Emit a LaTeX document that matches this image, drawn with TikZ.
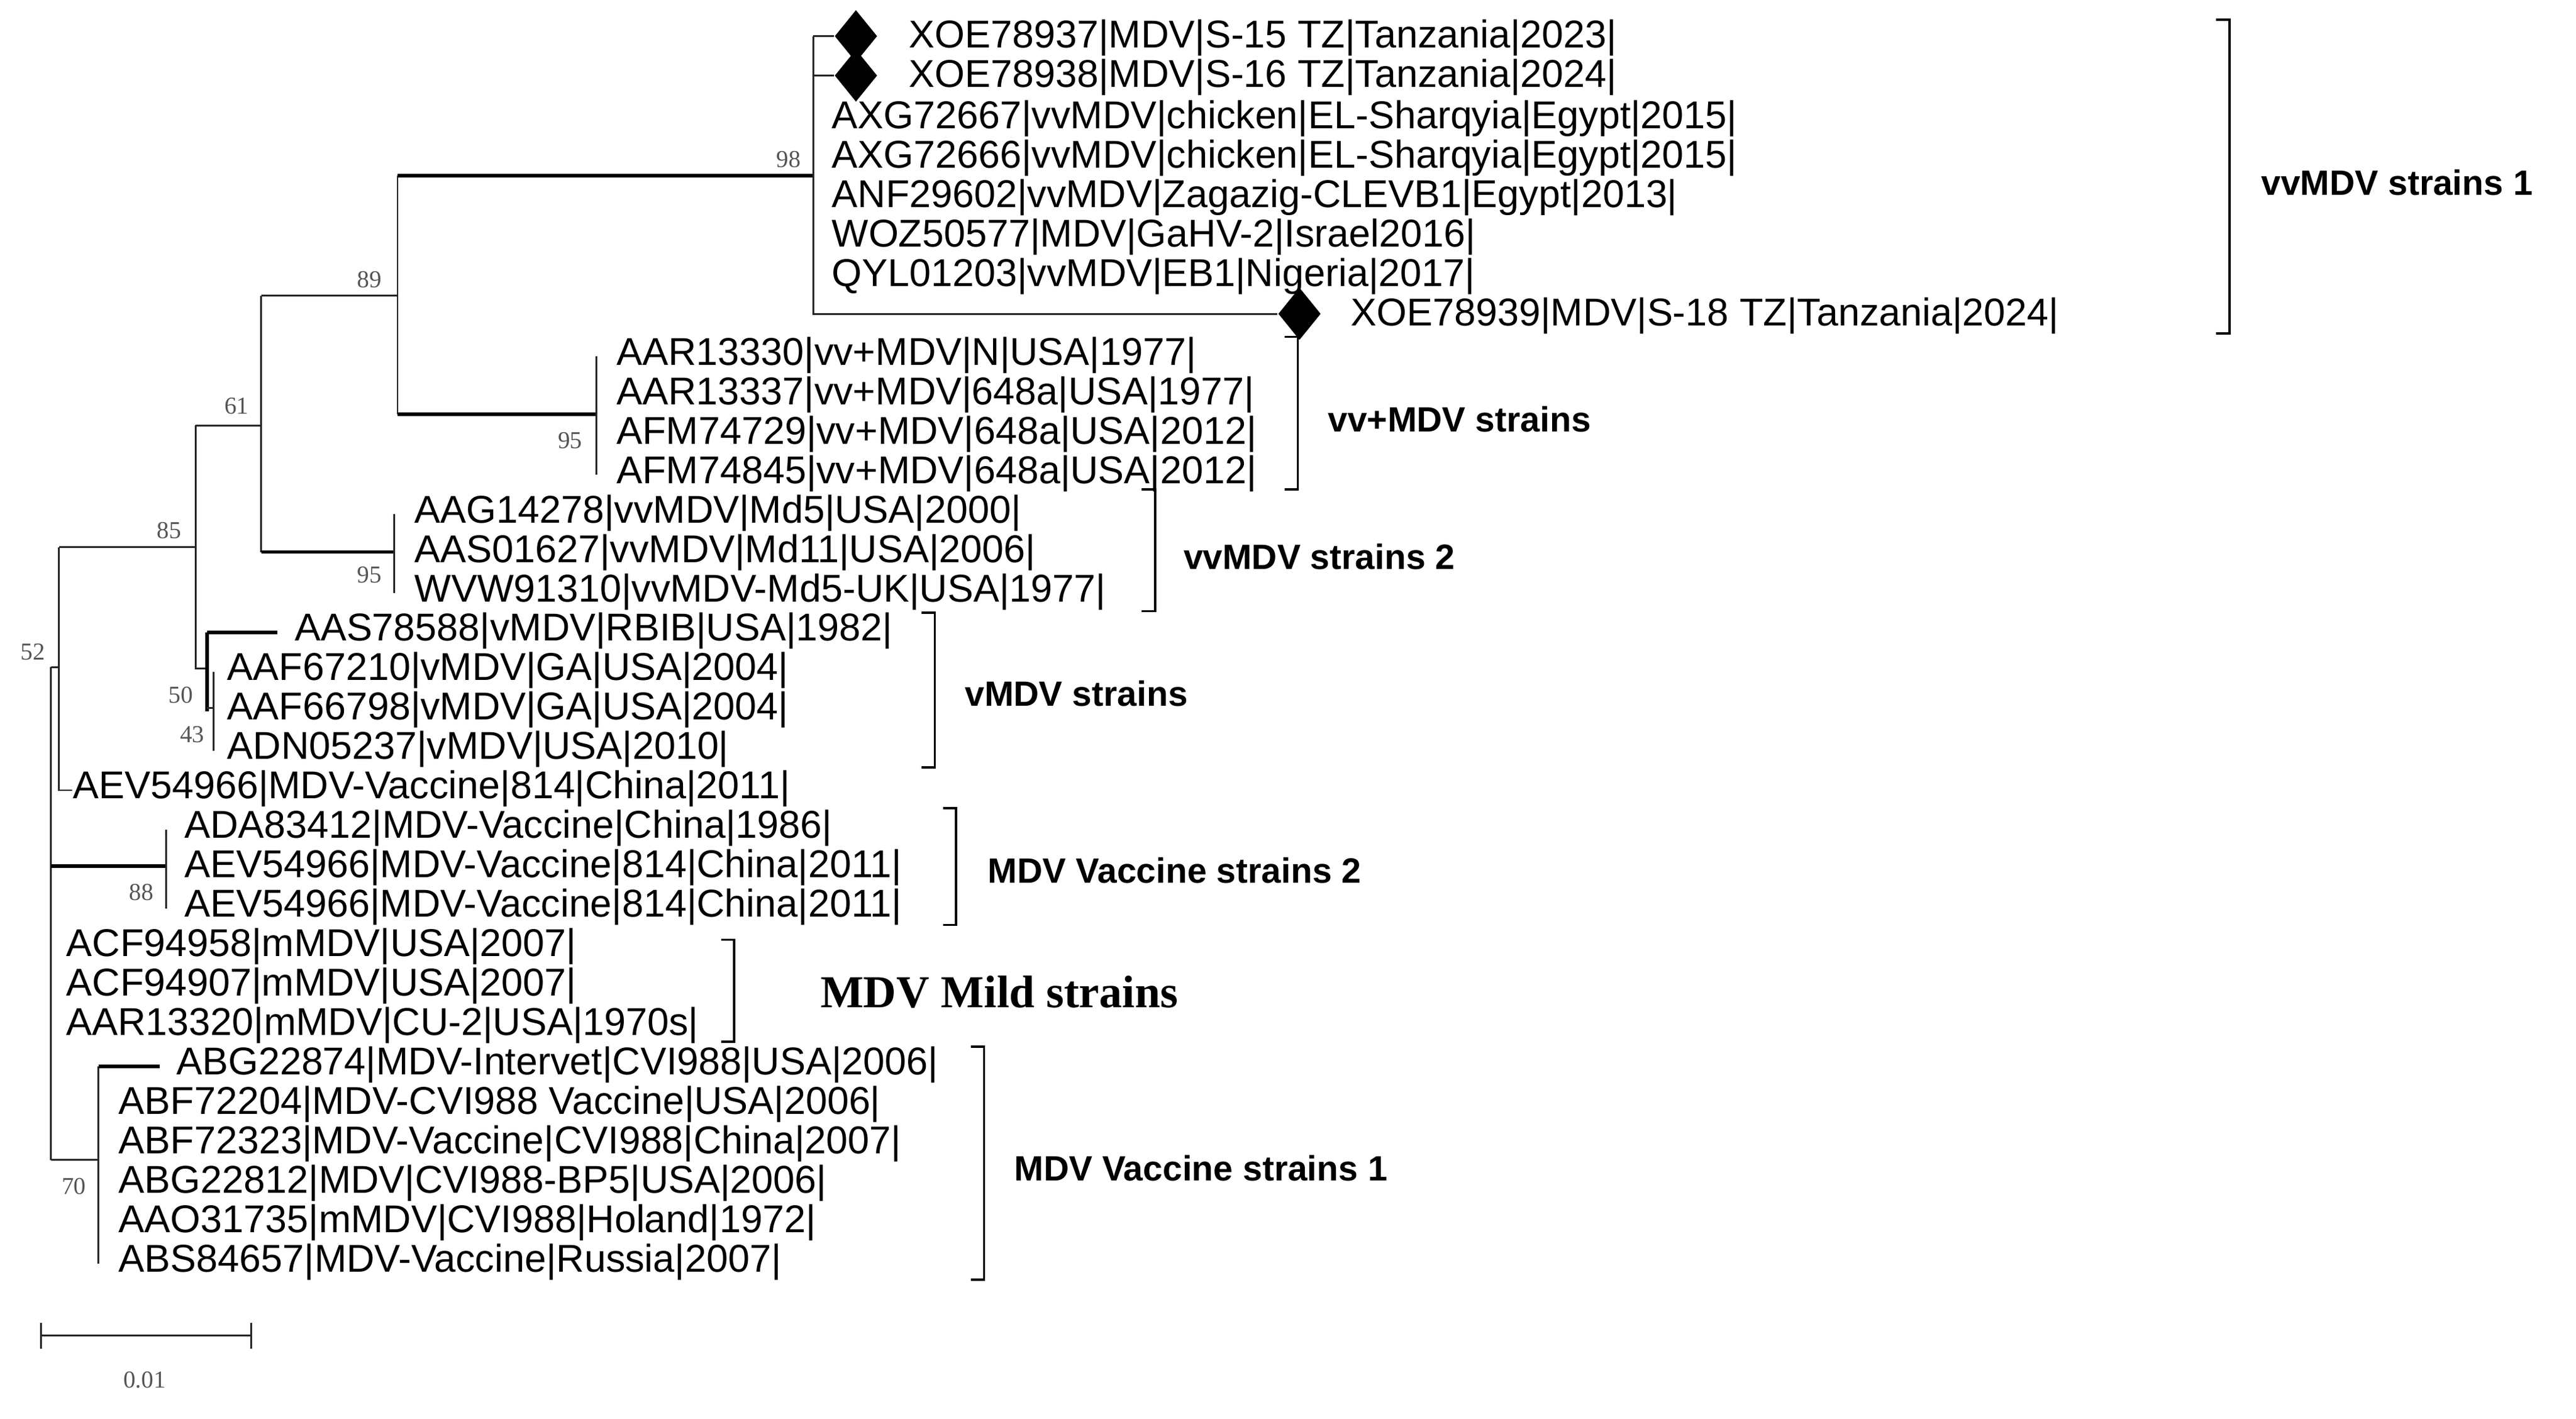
\documentclass[tikz,border=0pt]{standalone}
\usepackage{fontspec}
\setmainfont{Liberation Sans}
\newfontfamily\serif{Liberation Serif}
\usetikzlibrary{shapes.geometric}
\definecolor{bootgray}{HTML}{555555}
\begin{document}
\begin{tikzpicture}[x=0.5pt,y=-0.5pt,
  br/.style={line width=0.55pt, black!85},
  tbr/.style={line width=1.1pt},
  leaf/.style={anchor=west, inner sep=0pt, yshift=-1pt, font=\fontsize{11.8}{12}\selectfont, text height=0.72em, text depth=0.2em},
  boot/.style={font=\serif\fontsize{7.4}{8}\selectfont, text=bootgray, inner sep=0pt},
  grp/.style={anchor=west, inner sep=0pt, font=\bfseries\fontsize{10.7}{12}\selectfont},
  brk/.style={line width=0.7pt},
  dia/.style={diamond, fill=black, inner sep=0pt, minimum width=13pt, minimum height=16pt}]
\useasboundingbox (0,0) rectangle (1568,863.7);

% internal nodes
\coordinate (r)   at (31,406);
\coordinate (n52) at (36,406);
\coordinate (n85) at (119,333);
\coordinate (n61) at (159,259);
\coordinate (n89) at (242,180);
\coordinate (n98) at (495,107);
\coordinate (nvp) at (363,252);
\coordinate (nv2) at (240,336);
\coordinate (n50) at (126,407);
\coordinate (n43) at (130,431);
\coordinate (n88) at (101,527);
\coordinate (n70) at (60,706);

% leaves
\node[dia] (d1) at (521,22) {};
\node[dia] (d2) at (521,46) {};
\node[leaf] (l1) at (553,22) {XOE78937|MDV|S-15 TZ|Tanzania|2023|};
\node[leaf] (l2) at (553,46) {XOE78938|MDV|S-16 TZ|Tanzania|2024|};
\node[leaf] (l3) at (506,71) {AXG72667|vvMDV|chicken|EL-Sharqyia|Egypt|2015|};
\node[leaf] (l4) at (506,95) {AXG72666|vvMDV|chicken|EL-Sharqyia|Egypt|2015|};
\node[leaf] (l5) at (506,119) {ANF29602|vvMDV|Zagazig-CLEVB1|Egypt|2013|};
\node[leaf] (l6) at (506,143) {WOZ50577|MDV|GaHV-2|Israel2016|};
\node[leaf] (l7) at (506,167) {QYL01203|vvMDV|EB1|Nigeria|2017|};
\node[dia] (d3) at (791,191) {};
\node[leaf] (l8) at (822,191) {XOE78939|MDV|S-18 TZ|Tanzania|2024|};
\node[leaf] (l9) at (375,215) {AAR13330|vv+MDV|N|USA|1977|};
\node[leaf] (l10) at (375,239) {AAR13337|vv+MDV|648a|USA|1977|};
\node[leaf] (l11) at (375,263) {AFM74729|vv+MDV|648a|USA|2012|};
\node[leaf] (l12) at (375,287) {AFM74845|vv+MDV|648a|USA|2012|};
\node[leaf] (l13) at (252,311) {AAG14278|vvMDV|Md5|USA|2000|};
\node[leaf] (l14) at (252,335) {AAS01627|vvMDV|Md11|USA|2006|};
\node[leaf] (l15) at (252,359) {WVW91310|vvMDV-Md5-UK|USA|1977|};
\node[leaf] (l16) at (179,383) {AAS78588|vMDV|RBIB|USA|1982|};
\node[leaf] (l17) at (138,407) {AAF67210|vMDV|GA|USA|2004|};
\node[leaf] (l18) at (138,431) {AAF66798|vMDV|GA|USA|2004|};
\node[leaf] (l19) at (138,455) {ADN05237|vMDV|USA|2010|};
\node[leaf] (l20) at (44,479) {AEV54966|MDV-Vaccine|814|China|2011|};
\node[leaf] (l21) at (112,503) {ADA83412|MDV-Vaccine|China|1986|};
\node[leaf] (l22) at (112,527) {AEV54966|MDV-Vaccine|814|China|2011|};
\node[leaf] (l23) at (112,551) {AEV54966|MDV-Vaccine|814|China|2011|};
\node[leaf] (l24) at (40,575) {ACF94958|mMDV|USA|2007|};
\node[leaf] (l25) at (40,599) {ACF94907|mMDV|USA|2007|};
\node[leaf] (l26) at (40,623) {AAR13320|mMDV|CU-2|USA|1970s|};
\node[leaf] (l27) at (107,647) {ABG22874|MDV-Intervet|CVI988|USA|2006|};
\node[leaf] (l28) at (72,671) {ABF72204|MDV-CVI988 Vaccine|USA|2006|};
\node[leaf] (l29) at (72,695) {ABF72323|MDV-Vaccine|CVI988|China|2007|};
\node[leaf] (l30) at (72,719) {ABG22812|MDV|CVI988-BP5|USA|2006|};
\node[leaf] (l31) at (72,743) {AAO31735|mMDV|CVI988|Holand|1972|};
\node[leaf] (l32) at (72,767) {ABS84657|MDV-Vaccine|Russia|2007|};

% branches
\draw[br] (r |- n52) -- (r |- n70);
\draw[br] (r) -- (n52);
\draw[br] (n52 |- n85) -- (n52 |- l20.west) -- (l20.west);
\draw[br] (n52 |- n85) -- (n85);
\draw[br] (n85 |- n61) -- (n85 |- n50) -- (n50);
\draw[br] (n85 |- n61) -- (n61);
\draw[br] (n61 |- n89) -- (n61 |- nv2);
\draw[br] (n61 |- n89) -- (n89);
\draw[br] (n89 |- n98) -- (n89 |- nvp);
\draw[tbr] (n89 |- n98) -- (n98);
\draw[tbr] (n89 |- nvp) -- (nvp);
\draw[tbr] (n61 |- nv2) -- (nv2);
\draw[br] (n98 |- d1) -- (n98 |- d3) -- (d3.west);
\draw[br] (n98 |- d1) -- (d1.west);
\draw[br] (n98 |- d2) -- (d2.west);
\draw[br] (nvp |- l9.west) -- (nvp |- l12.west);
\draw[br] (nv2 |- l13.west) -- (nv2 |- l15.west);
\draw[tbr] (n50 |- l16.west) -- (n50 |- l18.west);
\draw[tbr] (n50 |- l16.west) -- ([xshift=-5]l16.west);
\draw[br] (n43 |- l17.west) -- (n43 |- l19.west);
\draw[br] (n50 |- n43) -- (n43);
\draw[tbr] (r |- n88) -- (n88);
\draw[br] (n88 |- l21.west) -- (n88 |- l23.west);
\draw[br] (r |- n70) -- (n70);
\draw[br] (n70 |- l27.west) -- (n70 |- l32.west);
\draw[tbr] (n70 |- l27.west) -- ([xshift=-5]l27.west);

% bootstrap values
\node[boot] at (480,97) {98};
\node[boot] at (225,170) {89};
\node[boot] at (347,268) {95};
\node[boot] at (144,247) {61};
\node[boot] at (225,350) {95};
\node[boot] at (103,323) {85};
\node[boot] at (20,397) {52};
\node[boot] at (110,423) {50};
\node[boot] at (117,447) {43};
\node[boot] at (86,543) {88};
\node[boot] at (45,722) {70};

% group brackets
\draw[brk] (1349,12) -- (1357,12) -- (1357,203) -- (1349,203);
\node[grp] at (1376,111) {vvMDV strains 1};
\draw[brk] (782,205) -- (790,205) -- (790,298) -- (782,298);
\node[grp] at (808,255) {vv+MDV strains};
\draw[brk] (695,298) -- (703,298) -- (703,372) -- (695,372);
\node[grp] at (720,339) {vvMDV strains 2};
\draw[brk] (561,373) -- (569,373) -- (569,467) -- (561,467);
\node[grp] at (587,422) {vMDV strains};
\draw[brk] (574,492) -- (582,492) -- (582,563) -- (574,563);
\node[grp] at (601,530) {MDV Vaccine strains 2};
\draw[brk] (439,572) -- (447,572) -- (447,634) -- (439,634);
\node[anchor=west, inner sep=0pt, font=\serif\bfseries\fontsize{13.9}{14}\selectfont] at (499,604) {MDV Mild strains};
\draw[brk] (591,637) -- (599,637) -- (599,779) -- (591,779);
\node[grp] at (617,711) {MDV Vaccine strains 1};

% scale bar
\coordinate (s1) at (25,813);
\coordinate (s2) at (153,813);
\draw[br] (s1) -- (s2);
\draw[br] ([yshift=-4]s1) -- ([yshift=4]s1);
\draw[br] ([yshift=-4]s2) -- ([yshift=4]s2);
\node[boot] at (88,840) {0.01};
\end{tikzpicture}
\end{document}
